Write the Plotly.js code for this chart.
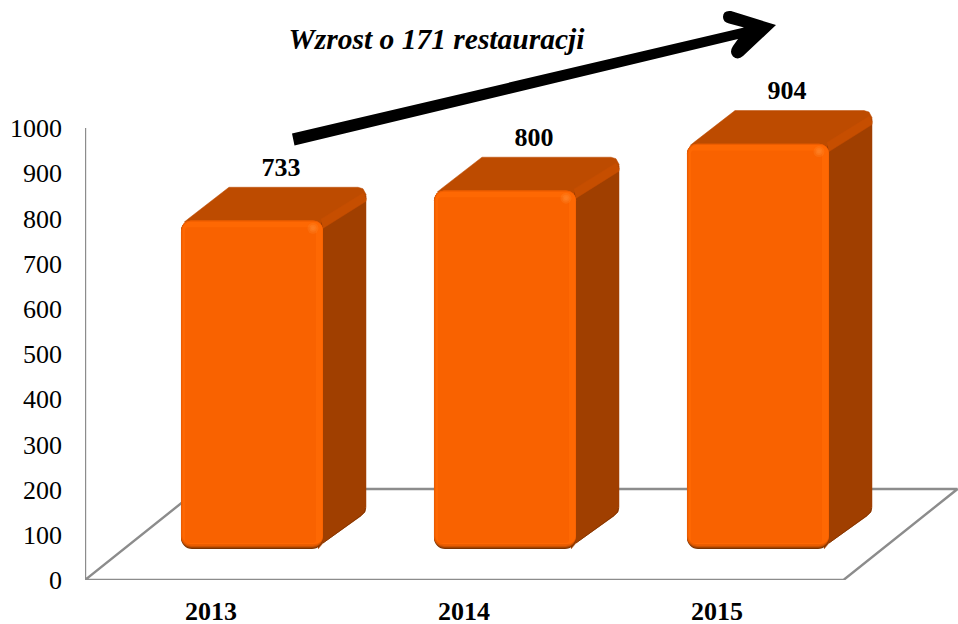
<!DOCTYPE html>
<html>
<head>
<meta charset="utf-8">
<script src="https://cdn.plot.ly/plotly-3.0.1.min.js"></script>
<style>html,body{margin:0;padding:0;background:#fff}</style>
</head>
<body>
<div id="chart" style="width:958px;height:624px"></div>
<script>
const years = ["2013", "2014", "2015"];
const restaurants = [733, 800, 904];
const yTicks = [0, 100, 200, 300, 400, 500, 600, 700, 800, 900, 1000];
const titleText = "Wzrost o 171 restauracji";

// Pixel geometry of the plot
const W = 958, H = 624, mL = 85, mB = 44;
const plotW = W - mL, plotH = H - mB;
const catPx = 253;                    // pixels per category
const xMin = -0.498, xMax = xMin + plotW / catPx;
const axisPx = 0.452;                 // px per unit on the visible value axis
const barPx = 0.4485;                 // px per unit on the bars' own depth plane
const barBasePx = 31;                 // front-plane baseline lies above the floor edge
const frontShift = 41 / catPx;        // front face is offset from the category tick
const halfW = 71 / catPx;
const u = px => px / catPx;
const v = px => px / barPx;
const yRangeMain = [0, plotH / axisPx];
const yRangeBar = [-barBasePx / barPx, (plotH - barBasePx) / barPx];

const serif = "Liberation Serif, Times New Roman, serif";
const traces = [];
const noHover = {hoverinfo: "skip", showlegend: false};

// Wall and floor
const grey = "#8c8c8c";
const floorDx = 114 / catPx, floorDy = 91 / axisPx;
const x0 = xMin, x1 = 2.5;
traces.push(Object.assign({type: "scatter", mode: "lines", cliponaxis: false,
  x: [x0, x0, x1, x1 + floorDx, x0 + floorDx, x0],
  y: [1000, 0, 0, floorDy, floorDy, 0],
  line: {color: grey, width: 2.4}}, noHover));

// Top and side faces, on the bars' plane
function poly(points, color, axis) {
  return Object.assign({type: "scatter", mode: "lines", fill: "toself", fillcolor: color,
    x: points.map(p => p[0]), y: points.map(p => p[1]), yaxis: axis,
    line: {color: color, width: 0.5}}, noHover);
}
years.forEach((yr, i) => {
  const c = i + frontShift, L = c - halfW, R = c + halfW, T = restaurants[i], B = 0;
  const p = (base, dx, yBase, dy) => [base + u(dx), yBase + v(dy)];
  traces.push(poly([
    p(L, 3, T, -2), p(L, 8, T, 2), p(L, 48, T, 33), p(R, 35, T, 33), p(R, 40, T, 31.5),
    p(R, 43, T, 26), p(R, 43, T, 20), p(R, 0, T, -10)
  ], "#BD4B00", "y2"));
  traces.push(poly([
    p(R, -4, T, -4), p(R, 43, T, 24), p(R, 43, B, 42), p(R, 42, B, 37), p(R, 38, B, 33),
    p(R, 0, B, 6), p(R, -5, B, 0)
  ], "#A03F00", "y2"));
  traces.push(poly([
    p(R, -2, T, 1), p(R, 36, T, 24), p(R, 40, T, 27), p(R, 43, T, 22), p(R, 43, T, 19), p(R, 0, T, -8)
  ], "#C64E00", "y2"));
  // dark lower rim of the side face
  traces.push(Object.assign({type: "scatter", mode: "lines", yaxis: "y2",
    x: [R + u(42.5), R + u(41.5), R + u(38), R + u(0)],
    y: [B + v(41), B + v(37), B + v(33.5), B + v(6)],
    line: {color: "#863600", width: 1}}, noHover));
});

// Front faces: layered bars make the bevel (insets: left, right, top, bottom, colour, radius)
const bevel = [
  [0, 0, 0, 0, "#7A3300", 11],
  [0, 0, 0, 1, "#A54300", 11],
  [0, 0, 0, 2, "#CC5200", 10],
  [0, 0, 0, 3, "#E85C00", 10],
  [0.6, 0, 0.6, 4.5, "#F05E00", 9],
  [1.5, 0.4, 1.5, 5, "#FE6803", 8],
  [4, 7, 7, 6, "#F96200", 3]
];
bevel.forEach(([iL, iR, iT, iB, color, radius]) => {
  traces.push(Object.assign({type: "bar", yaxis: "y3",
    x: years.map((_, i) => i + frontShift + u(iL - iR) / 2),
    y: restaurants.map(val => val - v(iT) - v(iB)),
    base: restaurants.map(() => v(iB)),
    width: years.map(() => 2 * halfW - u(iL + iR)),
    marker: {color: color, cornerradius: radius, line: {width: 0}}}, noHover));
});

// Soft glint at the upper right of each front face
[[11, 0.25], [7, 0.35], [4, 0.4]].forEach(([size, alpha]) => {
  traces.push(Object.assign({type: "scatter", mode: "markers", yaxis: "y3",
    x: years.map((_, i) => i + frontShift + halfW - u(10)),
    y: restaurants.map(val => val - v(8)),
    marker: {color: "#FF8A30", size: size, opacity: alpha, line: {width: 0}}}, noHover));
});

// Value labels
traces.push(Object.assign({type: "scatter", mode: "text", yaxis: "y3",
  x: years.map((_, i) => i + frontShift + u(29)),
  y: restaurants.map(val => val + v(33 + 18)),
  text: restaurants.map(String), textposition: "middle center",
  textfont: {family: serif, size: 26, color: "#000", weight: 700}}, noHover));

// Arrow, drawn in page pixels mapped onto the axes
const tx = px => xMin + (px - mL) / catPx;
const ty = py => (plotH - py) / axisPx;
const pt = (a, b) => tx(a) + "," + ty(b);
const arrowPath =
  "M" + pt(776, 25) + " L" + pt(731, 11) + " Q" + pt(723, 10) + " " + pt(723, 17) +
  " Q" + pt(723, 22) + " " + pt(729, 23.5) + " L" + pt(744, 27.5) +
  " L" + pt(292, 133.5) + " L" + pt(294.5, 145.5) + " L" + pt(738, 39) +
  " L" + pt(733, 46) + " Q" + pt(729, 52) + " " + pt(733, 56.5) + " Q" + pt(738, 60.5) + " " + pt(743, 56) + " Z";

const layout = {
  width: W, height: H,
  margin: {l: mL, r: 0, t: 0, b: mB, pad: 0},
  paper_bgcolor: "#fff", plot_bgcolor: "rgba(0,0,0,0)",
  barmode: "overlay", showlegend: false, hovermode: false,
  title: {text: titleText, x: 436.5 / W, xanchor: "center", xref: "container",
    y: 1 - 39 / H, yanchor: "middle", yref: "container",
    font: {family: serif, size: 29.5, color: "#000", weight: 700, style: "italic"}},
  xaxis: {type: "linear", range: [xMin, xMax], tickmode: "array", tickvals: [0, 1, 2], ticktext: years,
    showgrid: false, zeroline: false, showline: false, ticks: "", ticklabelstandoff: 13,
    tickfont: {family: serif, size: 26, color: "#000", weight: 700}},
  yaxis: {range: yRangeMain, tickmode: "array", tickvals: yTicks, showgrid: false, zeroline: false,
    showline: false, ticks: "", ticklabelstandoff: 22,
    tickfont: {family: serif, size: 26, color: "#000"}},
  yaxis2: {range: yRangeBar, overlaying: "y", visible: false, fixedrange: true},
  yaxis3: {range: yRangeBar, overlaying: "y", visible: false, fixedrange: true},
  shapes: [{type: "path", xref: "x", yref: "y", path: arrowPath, fillcolor: "#000",
    line: {color: "#000", width: 0}, layer: "above"}]
};
Plotly.newPlot("chart", traces, layout, {staticPlot: true, displayModeBar: false});
</script>
</body>
</html>
